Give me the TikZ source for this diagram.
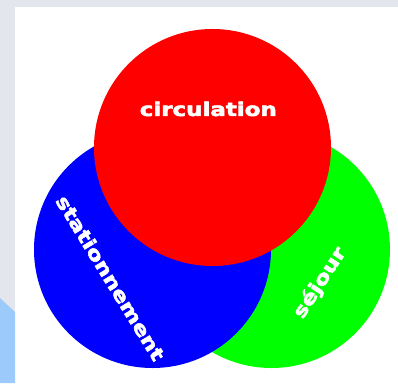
\documentclass[tikz,border=0pt]{standalone}
\usepackage{fontspec}
\newfontfamily\lblfont[FakeBold=2.5]{DejaVu Sans Bold}
\definecolor{bggray}{HTML}{E3E6ED}
\definecolor{bgblue}{HTML}{9CCBFB}
\definecolor{cred}{HTML}{FF0000}
\definecolor{cblue}{HTML}{0000FF}
\definecolor{cgreen}{HTML}{00FF00}
\tikzset{
  disc/.style={circle, inner sep=0pt, minimum size=237pt, draw=none},
  lbl/.style={text=white, inner sep=0pt, font=\lblfont\fontsize{18.8}{22}\selectfont}
}
\begin{document}
\begin{tikzpicture}[x=1pt,y=1pt]
\useasboundingbox (0,0) rectangle (398,383);
\fill[bggray] (0,0) rectangle (398,383);
\fill[white] (15,0) rectangle (398,376);
\fill[bgblue] (0,0) -- (0,85) -- (15,71) -- (15,0) -- cycle;
\node[disc, fill=cgreen] (sejourdisc) at (271.5,133.5) {};
\node[disc, fill=cblue] (statdisc) at (152.5,133.5) {};
\node[disc, fill=cred] (circdisc) at (212.5,235.5) {};
\node[lbl, anchor=base, xscale=1.22] (circ) at (208.3,267) {circulation};
\node[lbl, rotate=-58.5, xscale=1.22] (stat) at (110.5,105) {stationnement};
\node[lbl, rotate=57, xscale=1.22] (sej) at (320,100) {séjour};
\end{tikzpicture}
\end{document}
